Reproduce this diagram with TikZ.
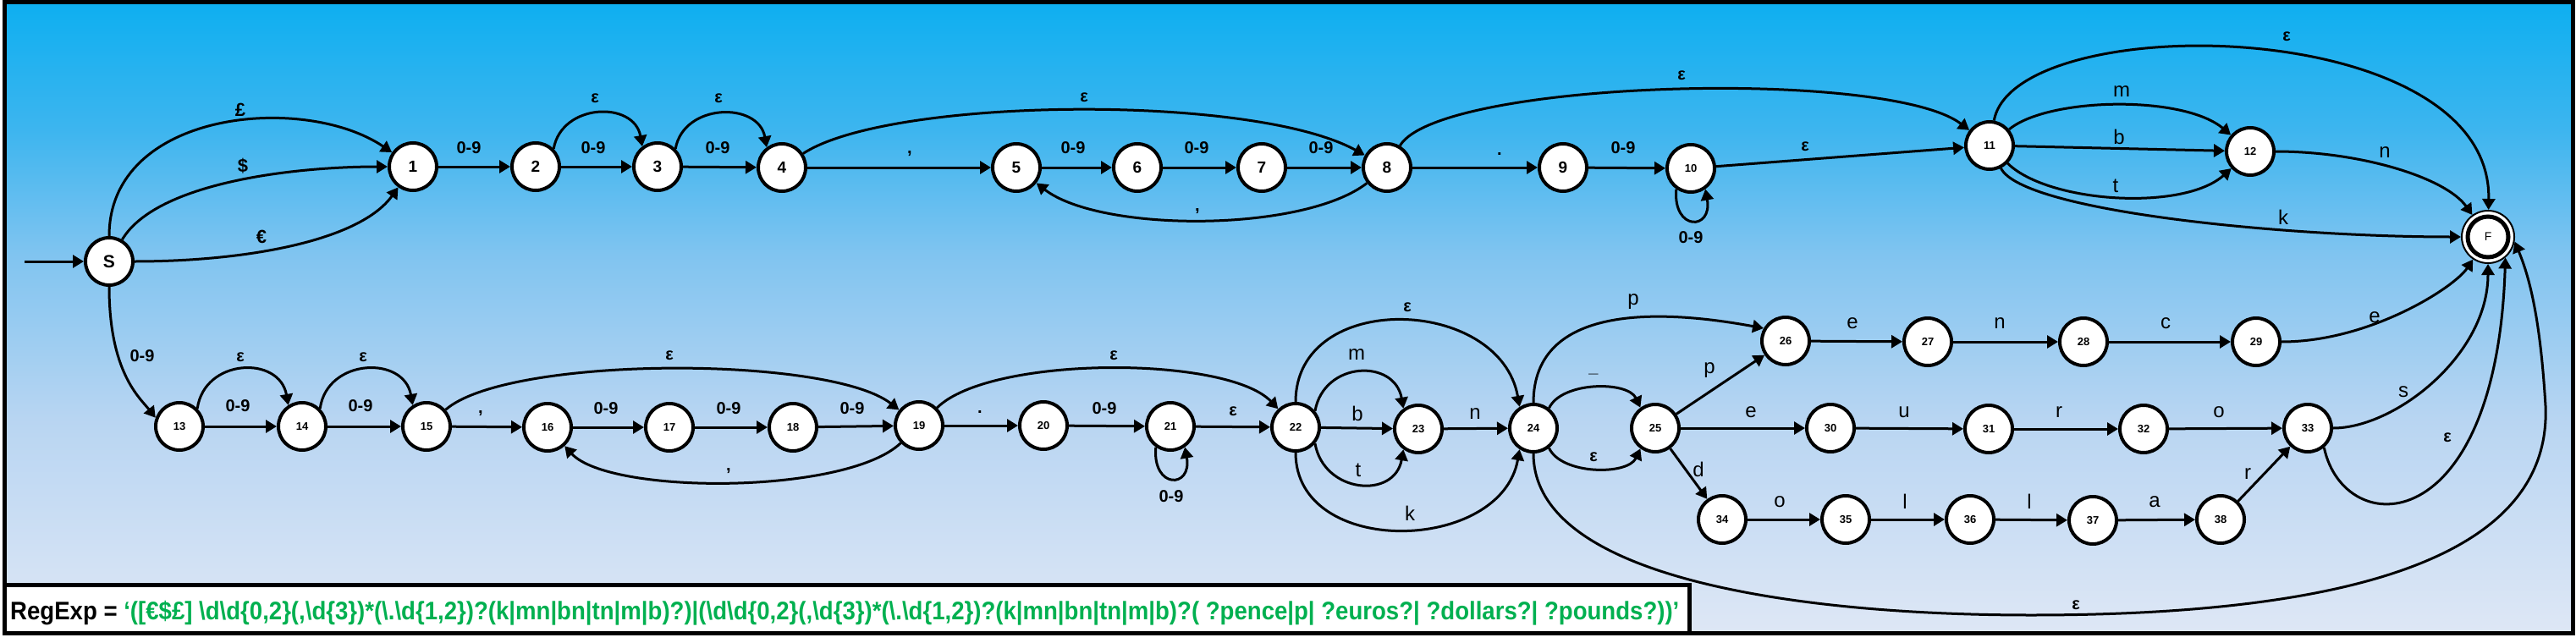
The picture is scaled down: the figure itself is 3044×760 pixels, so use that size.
\documentclass[tikz,border=0pt]{standalone}
\usepackage{fontspec}
\setmainfont{Liberation Sans}
\usepackage{graphicx}
\usetikzlibrary{arrows.meta}
\definecolor{g0}{RGB}{14,175,240}
\definecolor{g1}{RGB}{60,181,239}
\definecolor{g2}{RGB}{128,196,240}
\definecolor{g3}{RGB}{184,213,242}
\definecolor{g4}{RGB}{222,231,245}
\definecolor{rxgreen}{RGB}{0,176,80}
\pgfdeclareverticalshading{bgshade}{100bp}{color(0bp)=(g4); color(25bp)=(g4); color(42bp)=(g3); color(55bp)=(g2); color(65bp)=(g1); color(75bp)=(g0); color(100bp)=(g0)}
\tikzset{
  st/.style={circle, draw, line width=4pt, fill=white, minimum size=56pt, inner sep=0pt, font=\fontsize{13}{13}\selectfont\bfseries},
  stbig/.style={st, font=\fontsize{19}{19}\selectfont\bfseries},
  lab/.style={inner sep=0pt, font=\fontsize{20}{20}\selectfont\bfseries},
  labl/.style={inner sep=0pt, font=\fontsize{24}{24}\selectfont},
  labs/.style={inner sep=0pt, font=\fontsize{22}{22}\selectfont\bfseries},
  edge/.style={line width=3pt, -{Triangle[length=13pt,width=15pt]}}
}
\begin{document}
\begin{tikzpicture}[x=1pt,y=1pt]
\useasboundingbox (0,0) rectangle (3044,-760);
\fill[white] (0,0) rectangle (3044,-760);
\shade[shading=bgshade] (5,-2.5) rectangle (3040,-748);
\draw[line width=5pt] (5,-2.5) rectangle (3040,-748);
% regexp box
\draw[line width=5pt, fill=white] (5,-691.5) rectangle (1996,-748);
\node[anchor=base west, inner sep=0pt, font=\fontsize{30}{30}\selectfont\bfseries] (rx) at (12,-732) {\resizebox{1972pt}{\height}{RegExp = \textcolor{rxgreen}{‘([€\$£] \textbackslash d\textbackslash d\{0,2\}(,\textbackslash d\{3\})*(\textbackslash .\textbackslash d\{1,2\})?(k|mn|bn|tn|m|b)?)|(\textbackslash d\textbackslash d\{0,2\}(,\textbackslash d\{3\})*(\textbackslash .\textbackslash d\{1,2\})?(k|mn|bn|tn|m|b)?( ?pence|p| ?euros?| ?dollars?| ?pounds?))’}}};
% states
\node[stbig, font=\fontsize{21}{21}\selectfont\bfseries] (S) at (129,-309) {S};
\node[stbig] (n1) at (488,-197) {1};
\node[stbig] (n2) at (633,-197) {2};
\node[stbig] (n3) at (777,-197) {3};
\node[stbig] (n4) at (924,-198) {4};
\node[stbig] (n5) at (1201,-198) {5};
\node[stbig] (n6) at (1344,-198) {6};
\node[stbig] (n7) at (1491,-198) {7};
\node[stbig] (n8) at (1639,-198) {8};
\node[stbig] (n9) at (1847,-198) {9};
\node[st] (n10) at (1998,-199) {10};
\node[st] (n11) at (2351,-172) {11};
\node[st] (n12) at (2659,-179) {12};
\node[circle, draw, line width=2pt, fill=white, minimum size=62pt, inner sep=0pt] (F) at (2940,-280) {};
\node[circle, draw, line width=5pt, minimum size=48pt, inner sep=0pt, font=\fontsize{14}{14}\selectfont] (Fi) at (F) {F};
\node[st] (n13) at (212,-504) {13};
\node[st] (n14) at (357,-504) {14};
\node[st] (n15) at (504,-504) {15};
\node[st] (n16) at (647,-505) {16};
\node[st] (n17) at (791,-505) {17};
\node[st] (n18) at (937,-505) {18};
\node[st] (n19) at (1086,-503) {19};
\node[st] (n20) at (1233,-503) {20};
\node[st] (n21) at (1383,-504) {21};
\node[st] (n22) at (1531,-505) {22};
\node[st] (n23) at (1676,-507) {23};
\node[st] (n24) at (1812,-506) {24};
\node[st] (n25) at (1956,-506) {25};
\node[st] (n26) at (2110,-403) {26};
\node[st] (n27) at (2278,-404) {27};
\node[st] (n28) at (2462,-404) {28};
\node[st] (n29) at (2666,-404) {29};
\node[st] (n30) at (2163,-506) {30};
\node[st] (n31) at (2350,-507) {31};
\node[st] (n32) at (2533,-507) {32};
\node[st] (n33) at (2727,-506) {33};
\node[st] (n34) at (2035,-614) {34};
\node[st] (n35) at (2181,-614) {35};
\node[st] (n36) at (2328,-614) {36};
\node[st] (n37) at (2473,-615) {37};
\node[st] (n38) at (2624,-614) {38};
\coordinate (st0) at (29,-309);
% top edges
\draw[edge] (st0) -- (S);
\draw[edge] (S) .. controls (129,-130) and (360,-110) .. (n1);
\draw[edge] (S) .. controls (185,-215) and (350,-197) .. (n1);
\draw[edge] (S) .. controls (290,-309) and (425,-285) .. (n1);
\draw[edge] (n1) -- (n2);
\draw[edge] (n2) -- (n3);
\draw[edge] (n3) -- (n4);
\draw[edge] (n4) -- (n5);
\draw[edge] (n5) -- (n6);
\draw[edge] (n6) -- (n7);
\draw[edge] (n7) -- (n8);
\draw[edge] (n8) -- (n9);
\draw[edge] (n9) -- (n10);
\draw[edge] (n10) -- (n11);
\draw[edge] (n2.45) .. controls +(80:55) and +(100:55) .. (n3.127);
\draw[edge] (n3.45) .. controls +(80:55) and +(100:55) .. (n4.127);
\draw[edge] (n4) .. controls (1050,-115) and (1480,-110) .. (n8);
\draw[edge] (n8) .. controls (1540,-275) and (1300,-275) .. (n5);
\draw[edge] (n8) .. controls (1700,-95) and (2230,-80) .. (n11);
\draw[edge] (n10.235) .. controls +(-95:50) and +(-80:50) .. (n10.305);
\draw[edge] (n11) .. controls (2420,-115) and (2580,-112) .. (n12);
\draw[edge] (n11) -- (n12);
\draw[edge] (n11) .. controls (2420,-240) and (2580,-250) .. (n12);
\draw[edge] (n11) .. controls (2390,-250) and (2700,-280) .. (F);
\draw[edge] (n11) .. controls (2380,-10) and (2945,-15) .. (F);
\draw[edge] (n12) .. controls (2790,-179) and (2890,-210) .. (F);
% bottom edges
\draw[edge] (S.south) .. controls (129,-440) and (165,-470) .. (n13.160);
\draw[edge] (n13) -- (n14);
\draw[edge] (n14) -- (n15);
\draw[edge] (n15) -- (n16);
\draw[edge] (n16) -- (n17);
\draw[edge] (n17) -- (n18);
\draw[edge] (n18) -- (n19);
\draw[edge] (n19) -- (n20);
\draw[edge] (n20) -- (n21);
\draw[edge] (n21) -- (n22);
\draw[edge] (n22) -- (n23);
\draw[edge] (n23) -- (n24);
\draw[edge] (n13.45) .. controls +(82:60) and +(100:60) .. (n14.123);
\draw[edge] (n14.45) .. controls +(82:60) and +(100:60) .. (n15.123);
\draw[edge] (n15) .. controls (600,-420) and (980,-420) .. (n19);
\draw[edge] (n19) .. controls (1000,-585) and (720,-585) .. (n16);
\draw[edge] (n21.235) .. controls +(-95:50) and +(-80:50) .. (n21.305);
\draw[edge] (n19) .. controls (1170,-420) and (1450,-420) .. (n22);
\draw[edge] (n22.40) .. controls +(80:60) and +(100:60) .. (n23.126);
\draw[edge] (n22.-40) .. controls +(-80:60) and +(-100:60) .. (n23.-126);
\draw[edge] (n22.90) .. controls +(90:133) and +(100:133) .. (n24.123);
\draw[edge] (n22.-90) .. controls +(-90:125) and +(-100:125) .. (n24.-123);
\draw[edge] (n24.52) .. controls +(65:35) and +(115:35) .. (n25.126);
\draw[edge] (n24.-52) .. controls +(-65:35) and +(-115:35) .. (n25.-126);
\draw[edge] (n24.90) .. controls (1812,-360) and (1960,-365) .. (n26.150);
\draw[edge] (n25) -- (n26);
\draw[edge] (n25) -- (n30);
\draw[edge] (n25) -- (n34);
\draw[edge] (n26) -- (n27);
\draw[edge] (n27) -- (n28);
\draw[edge] (n28) -- (n29);
\draw[edge] (n30) -- (n31);
\draw[edge] (n31) -- (n32);
\draw[edge] (n32) -- (n33);
\draw[edge] (n34) -- (n35);
\draw[edge] (n35) -- (n36);
\draw[edge] (n36) -- (n37);
\draw[edge] (n37) -- (n38);
\draw[edge] (n38) -- (n33);
\draw[edge] (n29) .. controls (2800,-404) and (2900,-340) .. (F);
\draw[edge] (n33) .. controls (2830,-506) and (2940,-420) .. (F);
\draw[edge] (n33.-50) .. controls (2770,-640) and (2950,-640) .. (F.-50);
\draw[edge] (n24.-90) .. controls (1812,-690) and (2150,-727) .. (2400,-727) .. controls (2800,-727) and (3015,-650) .. (3008,-480) .. controls (3002,-380) and (2990,-330) .. (F.-10);
% labels top
\node[labs] (la1) at (284,-130) {£};
\node[labs] (la2) at (287,-196) {\$};
\node[labs] (la3) at (309,-280) {€};
\node[lab] (la4) at (554,-175) {0-9};
\node[lab] (la5) at (701,-175) {0-9};
\node[lab] (la6) at (848,-175) {0-9};
\node[lab] (la7) at (703,-116) {ε};
\node[lab] (la8) at (849,-116) {ε};
\node[lab] (la9) at (1075,-182) {,};
\node[lab] (la10) at (1281,-115) {ε};
\node[lab] (la11) at (1268,-175) {0-9};
\node[lab] (la12) at (1414,-175) {0-9};
\node[lab] (la13) at (1561,-175) {0-9};
\node[lab] (la14) at (1415,-250) {,};
\node[lab] (la15) at (1772,-182) {.};
\node[lab] (la16) at (1918,-175) {0-9};
\node[lab] (la17) at (1987,-89) {ε};
\node[lab] (la18) at (1998,-281) {0-9};
\node[lab] (la19) at (2133,-173) {ε};
\node[labl] (la20) at (2507,-108) {m};
\node[labl] (la21) at (2504,-162) {b};
\node[labl] (la22) at (2500,-220) {t};
\node[labl] (la23) at (2818,-180) {n};
\node[labl] (la24) at (2698,-257) {k};
\node[lab] (la25) at (2702,-43) {ε};
% labels bottom
\node[lab] (lb1) at (168,-421) {0-9};
\node[lab] (lb2) at (281,-480) {0-9};
\node[lab] (lb3) at (426,-480) {0-9};
\node[lab] (lb4) at (284,-422) {ε};
\node[lab] (lb5) at (429,-422) {ε};
\node[lab] (lb6) at (568,-489) {,};
\node[lab] (lb7) at (791,-420) {ε};
\node[lab] (lb8) at (716,-483) {0-9};
\node[lab] (lb9) at (861,-483) {0-9};
\node[lab] (lb10) at (1007,-483) {0-9};
\node[lab] (lb11) at (861,-557) {,};
\node[lab] (lb12) at (1158,-487) {.};
\node[lab] (lb13) at (1305,-483) {0-9};
\node[lab] (lb14) at (1384,-587) {0-9};
\node[lab] (lb15) at (1457,-486) {ε};
\node[lab] (lb16) at (1316,-420) {ε};
\node[labl] (lb17) at (1603,-419) {m};
\node[labl] (lb18) at (1604,-489) {b};
\node[labl] (lb19) at (1605,-556) {t};
\node[lab] (lb20) at (1663,-363) {ε};
\node[labl] (lb21) at (1666,-607) {k};
\node[labl] (lb22) at (1743,-489) {n};
\node[lab] (lb23) at (1883,-442) {\_};
\node[lab] (lb24) at (1883,-540) {ε};
\node[labl] (lb25) at (1930,-357) {p};
\node[labl] (lb26) at (2020,-438) {p};
\node[labl] (lb27) at (2069,-487) {e};
\node[labl] (lb28) at (2007,-555) {d};
\node[labl] (lb29) at (2189,-382) {e};
\node[labl] (lb30) at (2363,-382) {n};
\node[labl] (lb31) at (2559,-382) {c};
\node[labl] (lb32) at (2806,-375) {e};
\node[labl] (lb33) at (2250,-487) {u};
\node[labl] (lb34) at (2433,-487) {r};
\node[labl] (lb35) at (2622,-487) {o};
\node[labl] (lb36) at (2840,-463) {s};
\node[lab] (lb37) at (2892,-517) {ε};
\node[labl] (lb38) at (2103,-593) {o};
\node[labl] (lb39) at (2251,-593) {l};
\node[labl] (lb40) at (2398,-593) {l};
\node[labl] (lb41) at (2546,-593) {a};
\node[labl] (lb42) at (2656,-560) {r};
\node[lab] (lb43) at (2453,-715) {ε};
\end{tikzpicture}
\end{document}
